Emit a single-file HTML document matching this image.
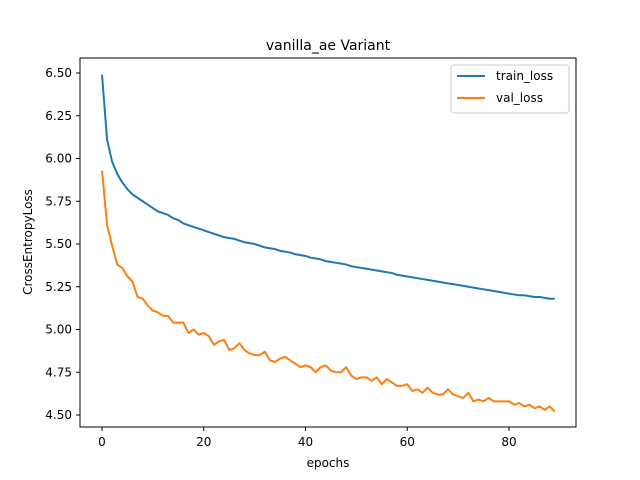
<!DOCTYPE html>
<html><head><meta charset="utf-8"><style>
body{margin:0;background:#fff}
svg{display:block;font-family:"DejaVu Sans","Liberation Sans",sans-serif}
</style></head><body>
<svg id="chart" width="640" height="480">
<rect width="640" height="480" fill="#fff"/>
<text x="328" y="50" text-anchor="middle" font-size="14">vanilla_ae Variant</text>
<g id="plot"></g>
<rect x="80" y="58" width="496" height="369" fill="none" stroke="#000" stroke-width="1"/>
<text x="328" y="467" text-anchor="middle" font-size="12">epochs</text>
<text x="32" y="242" text-anchor="middle" font-size="12" transform="rotate(-90 32 242)">CrossEntropyLoss</text>
<g>
<rect x="451" y="65" width="118" height="48" rx="3" fill="#fff" stroke="#ccc"/>
<line x1="457" y1="76" x2="485" y2="76" stroke="#1f77b4" stroke-width="2"/>
<text x="496" y="80" font-size="12">train_loss</text>
<line x1="457" y1="98" x2="485" y2="98" stroke="#ff7f0e" stroke-width="2"/>
<text x="496" y="102" font-size="12">val_loss</text>
</g>
</svg>
<script>
const xTicks=[0,20,40,60,80];
const yTicks=[4.50,4.75,5.00,5.25,5.50,5.75,6.00,6.25,6.50];
const trainLoss=[6.49,6.11,5.98,5.91,5.86,5.82,5.79,5.77,5.75,5.73,5.71,5.69,5.68,5.67,5.65,5.64,5.62,5.61,5.60,5.59,5.58,5.57,5.56,5.55,5.54,5.535,5.53,5.52,5.51,5.505,5.50,5.49,5.48,5.475,5.47,5.46,5.455,5.45,5.44,5.435,5.43,5.42,5.415,5.41,5.40,5.395,5.39,5.385,5.38,5.37,5.365,5.36,5.355,5.35,5.345,5.34,5.335,5.33,5.32,5.315,5.31,5.305,5.30,5.295,5.29,5.285,5.28,5.275,5.27,5.265,5.26,5.255,5.25,5.245,5.24,5.235,5.23,5.225,5.22,5.215,5.21,5.205,5.20,5.20,5.195,5.19,5.19,5.185,5.18,5.18];
const valLoss=[5.93,5.61,5.49,5.38,5.36,5.31,5.28,5.19,5.18,5.14,5.11,5.10,5.08,5.08,5.04,5.04,5.04,4.98,5.00,4.97,4.98,4.96,4.91,4.93,4.94,4.88,4.89,4.92,4.88,4.86,4.85,4.85,4.87,4.82,4.81,4.83,4.84,4.82,4.80,4.78,4.79,4.78,4.75,4.78,4.79,4.76,4.75,4.75,4.78,4.73,4.71,4.72,4.72,4.70,4.72,4.68,4.71,4.69,4.67,4.67,4.68,4.64,4.65,4.63,4.66,4.63,4.62,4.62,4.65,4.62,4.61,4.60,4.63,4.58,4.59,4.58,4.60,4.58,4.58,4.58,4.58,4.56,4.57,4.55,4.56,4.54,4.55,4.53,4.55,4.52];
const NS='http://www.w3.org/2000/svg';
const xs=e=>102+e*(509-102)/80;
const ys=v=>415-(v-4.5)*171;
const svg=document.getElementById('chart');
const g=document.getElementById('plot');
function mk(t,a,p){const el=document.createElementNS(NS,t);for(const k in a)el.setAttribute(k,a[k]);(p||g).appendChild(el);return el;}
xTicks.forEach(t=>{
  const l=mk('line',{x1:xs(t),x2:xs(t),y1:427,y2:431,stroke:'#000'});
  
  
  const tx=mk('text',{x:xs(t),y:446,'text-anchor':'middle','font-size':12});
  tx.textContent=t;
  
  
});
yTicks.forEach(t=>{
  const l=mk('line',{x1:76,x2:80,y1:ys(t),y2:ys(t),stroke:'#000'});
  
  
  const tx=mk('text',{x:72,y:ys(t)+4,'text-anchor':'end','font-size':12});
  tx.textContent=t.toFixed(2);
  
  
});
function line(data,color,name){
  const p=mk('polyline',{points:data.map((v,i)=>xs(i)+','+ys(v)).join(' '),fill:'none',stroke:color,'stroke-width':2,'stroke-linejoin':'round'});
  
  
}
line(trainLoss,'#1f77b4','train-loss-line');
line(valLoss,'#ff7f0e','val-loss-line');
</script>
</body></html>
